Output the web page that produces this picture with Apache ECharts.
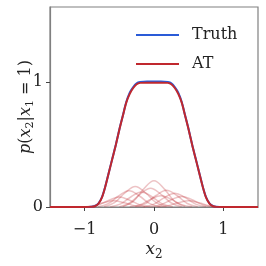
<!DOCTYPE html>
<html><head><meta charset="utf-8">
<script src="https://cdn.jsdelivr.net/npm/echarts@6/dist/echarts.min.js"></script>
<style>html,body{margin:0;padding:0;background:#fff}#c{width:266px;height:266px}</style>
</head><body><div id="c"></div>
<script>
// x positions of the main curves
const curveX = [-1.5,-1.0,-0.9,-0.85,-0.8,-0.75,-0.7,-0.65,-0.6,-0.55,-0.5,-0.45,-0.4,-0.35,-0.3,-0.25,-0.2,-0.1,0,0.1,0.2,0.25,0.3,0.35,0.4,0.45,0.5,0.55,0.6,0.65,0.7,0.75,0.8,0.85,0.9,1.0,1.5];
const truthY = [0,0,0.002,0.008,0.03,0.08,0.17,0.28,0.39,0.5,0.62,0.73,0.84,0.915,0.96,0.99,1.0,1.005,1.005,1.005,1.0,0.99,0.96,0.915,0.84,0.73,0.62,0.5,0.39,0.28,0.17,0.08,0.03,0.008,0.002,0,0];
const atY =    [0,0,0.001,0.006,0.027,0.077,0.168,0.278,0.388,0.498,0.618,0.728,0.835,0.905,0.952,0.982,0.993,0.995,0.995,0.995,0.993,0.982,0.952,0.905,0.835,0.728,0.618,0.498,0.388,0.278,0.168,0.077,0.027,0.006,0.001,0,0];
// faint AT components: x list, y list
const comp1X = [-0.45,-0.3,-0.15,0,0.15,0.3,0.45];   const comp1Y = [0.004,0.044,0.143,0.21,0.143,0.044,0.004];
const comp2X = [-0.72,-0.57,-0.42,-0.27,-0.12,0.03,0.18]; const comp2Y = [0.003,0.035,0.112,0.165,0.112,0.035,0.003];
const comp3X = [-0.81,-0.66,-0.51,-0.36,-0.21,-0.06,0.09]; const comp3Y = [0.003,0.027,0.088,0.13,0.088,0.027,0.003];
const comp4X = [-0.27,-0.12,0.03,0.18,0.33,0.48,0.63]; const comp4Y = [0.003,0.028,0.092,0.135,0.092,0.028,0.003];
const comp5X = [-0.15,0,0.15,0.3,0.45,0.6,0.75]; const comp5Y = [0.002,0.023,0.075,0.11,0.075,0.023,0.002];
const comp6X = [-0.05,0.1,0.25,0.4,0.55,0.7,0.85]; const comp6Y = [0.002,0.018,0.058,0.085,0.058,0.018,0.002];
const comp7X = [-0.95,-0.8,-0.65,-0.5,-0.35,-0.2,-0.05]; const comp7Y = [0.002,0.017,0.054,0.08,0.054,0.017,0.002];
const comp8X = [-0.63,-0.48,-0.33,-0.18,-0.03,0.12,0.27]; const comp8Y = [0.002,0.025,0.082,0.12,0.082,0.025,0.002];
const comp9X = [-0.5,-0.35,-0.2,-0.05,0.1,0.25,0.4]; const comp9Y = [0.003,0.032,0.102,0.15,0.102,0.032,0.003];
const comp10X = [-1.03,-0.88,-0.73,-0.58,-0.43,-0.28,-0.13]; const comp10Y = [0.001,0.011,0.034,0.05,0.034,0.011,0.001];
const comp11X = [-0.35,-0.2,-0.05,0.1,0.25,0.4,0.55]; const comp11Y = [0.002,0.019,0.061,0.09,0.061,0.019,0.002];
const comp12X = [0.05,0.2,0.35,0.5,0.65,0.8,0.95]; const comp12Y = [0.001,0.011,0.034,0.05,0.034,0.011,0.001];
const components = [[comp1X,comp1Y],[comp2X,comp2Y],[comp3X,comp3Y],[comp4X,comp4Y],[comp5X,comp5Y],[comp6X,comp6Y],[comp7X,comp7Y],[comp8X,comp8Y],[comp9X,comp9Y],[comp10X,comp10Y],[comp11X,comp11Y],[comp12X,comp12Y]];
const xTicks = [-1,0,1];
const yTicks = [0,1];
const seriesNames = ['Truth','AT'];

const FONT = 'DejaVu Serif';
const BLUE = '#2a5bd7', RED = '#c0282e';
const zip = (xs, ys) => xs.map((x,i)=>[x, ys[i]]);

const series = [];
components.forEach(([xs,ys]) => {
  series.push({type:'line', data: zip(xs,ys), smooth:0.4, symbol:'none', silent:true,
    lineStyle:{color:RED, width:1.5, opacity:0.28}, z:2});
});
series.push({name:seriesNames[0], type:'line', data:zip(curveX,truthY), smooth:0.3, symbol:'none',
  lineStyle:{color:BLUE, width:2}, itemStyle:{color:BLUE}, z:3});
series.push({name:seriesNames[1], type:'line', data:zip(curveX,atY), smooth:0.3, symbol:'none',
  lineStyle:{color:RED, width:2}, itemStyle:{color:RED}, z:4});

const chart = echarts.init(document.getElementById('c'), null, {renderer:'canvas'});
chart.setOption({
  animation:false,
  backgroundColor:'#fff',
  grid:{left:50, right:8, top:7, bottom:52, show:true, borderColor:'#808080', borderWidth:1.2, backgroundColor:'transparent'},
  legend:{orient:'vertical', left:131, top:21, itemWidth:43, itemHeight:2, itemGap:11,
    data:[{name:seriesNames[0], icon:'rect', itemStyle:{color:BLUE}}, {name:seriesNames[1], icon:'rect', itemStyle:{color:RED}}],
    textStyle:{fontFamily:FONT, fontSize:16, color:'#222', lineHeight:18, padding:[0,0,0,8]}},
  xAxis:{type:'value', min:-1.5, max:1.5,
    name:'{i|x}{s|2}', nameLocation:'middle', nameGap:32, nameMoveOverlap:false,
    nameTextStyle:{rich:{i:{fontFamily:FONT, fontStyle:'italic', fontSize:17, color:'#222'}, s:{fontFamily:FONT, fontSize:12, color:'#222', padding:[10,0,0,0]}}},
    axisLine:{show:true, onZero:false, lineStyle:{color:'#808080', width:1.2}},
    axisTick:{show:true, inside:false, length:4, customValues:xTicks, lineStyle:{color:'#444'}},
    axisLabel:{customValues:xTicks, fontFamily:FONT, fontSize:16, color:'#222', margin:15, formatter:v=>String(v).replace('-','\u2212')},
    splitLine:{show:false}},
  yAxis:{type:'value', min:0, max:1.6,
    name:'{i|p}({i|x}{s|2}|{i|x}{s|1} = 1)', nameLocation:'middle', nameGap:14, nameRotate:90, nameMoveOverlap:false,
    nameTextStyle:{fontFamily:FONT, fontSize:16, color:'#222', rich:{i:{fontFamily:FONT, fontStyle:'italic', fontSize:16, color:'#222'}, s:{fontFamily:FONT, fontSize:11, color:'#222', padding:[9,0,0,0]}}},
    axisLine:{show:true, onZero:false, lineStyle:{color:'#808080', width:1.2}},
    axisTick:{show:true, inside:false, length:4, customValues:yTicks, lineStyle:{color:'#444'}},
    axisLabel:{customValues:yTicks, fontFamily:FONT, fontSize:16, color:'#222', margin:7},
    splitLine:{show:false}},
  series:series
});
</script></body></html>
